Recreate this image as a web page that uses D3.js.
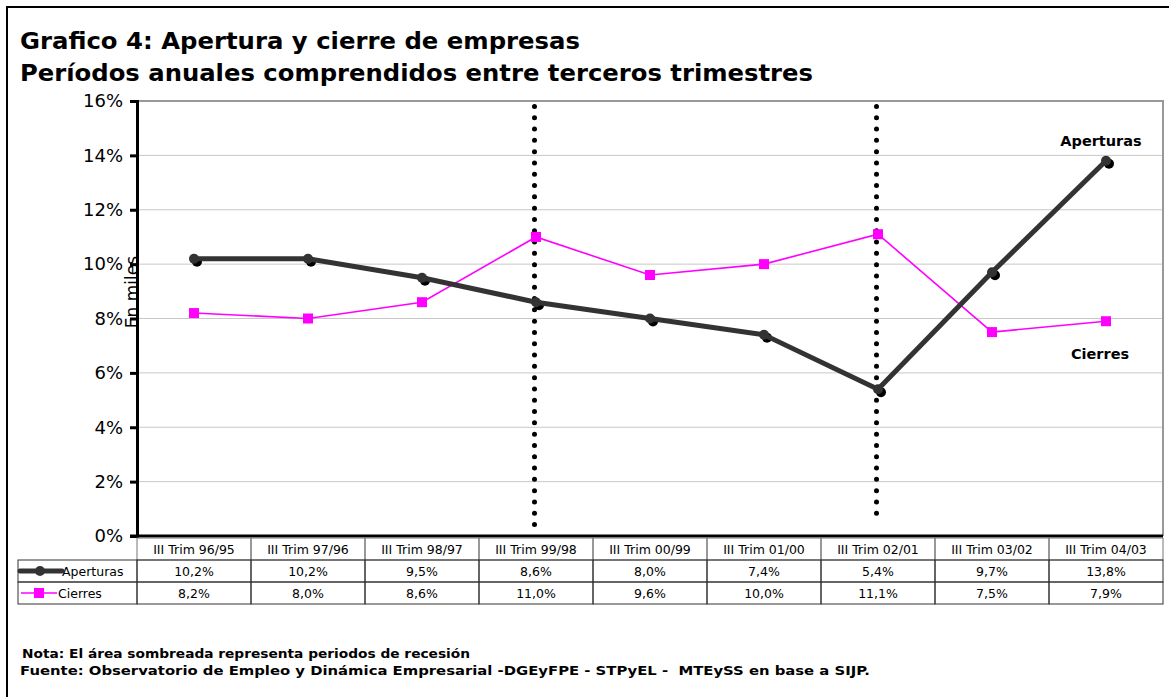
<!DOCTYPE html>
<html>
<head>
<meta charset="utf-8">
<script src="https://cdn.jsdelivr.net/npm/d3@7"></script>
<style>
  body { margin: 0; background: #fff; }
  svg { display: block; font-family: "DejaVu Sans", Verdana, sans-serif; }
</style>
</head>
<body>
<div class="chart"></div>
<script>
// data
var categories = ["III Trim 96/95", "III Trim 97/96", "III Trim 98/97", "III Trim 99/98",
  "III Trim 00/99", "III Trim 01/00", "III Trim 02/01", "III Trim 03/02", "III Trim 04/03"];
var aperturas = [10.2, 10.2, 9.5, 8.6, 8.0, 7.4, 5.4, 9.7, 13.8];
var cierres = [8.2, 8.0, 8.6, 11.0, 9.6, 10.0, 11.1, 7.5, 7.9];
var yTicks = [0, 2, 4, 6, 8, 10, 12, 14, 16];
// recession markers: [category, top %, bottom %]
var recession = [["III Trim 99/98", 15.8, 0.3], ["III Trim 02/01", 15.8, 0.7]];

var width = 1169, height = 697;
var pLeft = 137, pRight = 1163, pTop = 101, pBottom = 536;
var rowH = 22;

var svg = d3.select(".chart").append("svg")
  .attr("width", width).attr("height", height);

// outer frame (runs off the page on the right and bottom)
svg.append("rect")
  .attr("x", 7).attr("y", 7).attr("width", 1180).attr("height", 700)
  .attr("fill", "none").attr("stroke", "#000").attr("stroke-width", 2);

// titles
svg.append("text").attr("x", 20).attr("y", 49)
  .attr("font-size", 23).attr("font-weight", "bold")
  .attr("textLength", 560).attr("lengthAdjust", "spacingAndGlyphs")
  .text("Grafico 4: Apertura y cierre de empresas");
svg.append("text").attr("x", 20).attr("y", 81)
  .attr("font-size", 23).attr("font-weight", "bold")
  .attr("textLength", 793).attr("lengthAdjust", "spacingAndGlyphs")
  .text("Períodos anuales comprendidos entre terceros trimestres");

var x = d3.scaleBand().domain(categories).range([pLeft, pRight]);
var y = d3.scaleLinear().domain([0, 16]).range([pBottom, pTop]);
var cx = function(c) { return x(c) + x.bandwidth() / 2; };

// gridlines
svg.append("g").selectAll("line")
  .data(yTicks.slice(1))
  .enter().append("line")
  .attr("x1", pLeft).attr("x2", pRight)
  .attr("y1", function(d) { return y(d); }).attr("y2", function(d) { return y(d); })
  .attr("stroke", "#c8c8c8").attr("stroke-width", 1);

// plot border top/right
svg.append("path")
  .attr("d", "M" + pLeft + "," + pTop + "H" + pRight + "V" + pBottom)
  .attr("fill", "none").attr("stroke", "#999").attr("stroke-width", 2);

// y axis
var yAxis = d3.axisLeft(y).tickValues(yTicks).tickSize(7)
  .tickFormat(function(d) { return d + "%"; });
var ga = svg.append("g").attr("transform", "translate(" + pLeft + ",0)").call(yAxis);
ga.select(".domain").attr("stroke-width", 3);
ga.selectAll(".tick line").attr("stroke-width", 3);
ga.selectAll(".tick text").attr("font-size", 18).attr("fill", "#000")
  .attr("font-family", "DejaVu Sans, sans-serif").attr("x", -14);

svg.append("text")
  .attr("transform", "translate(138,292) rotate(-90)")
  .attr("text-anchor", "middle").attr("font-size", 17)
  .text("En miles");

// recession dotted lines
svg.append("g").selectAll("line")
  .data(recession)
  .enter().append("line")
  .attr("x1", function(d) { return cx(d[0]) - 1.5; })
  .attr("x2", function(d) { return cx(d[0]) - 1.5; })
  .attr("y1", function(d) { return y(d[1]); })
  .attr("y2", function(d) { return y(d[2]); })
  .attr("stroke", "#000").attr("stroke-width", 5)
  .attr("stroke-linecap", "round").attr("stroke-dasharray", "0 11.3");

// x baseline
svg.append("line").attr("x1", pLeft - 7).attr("x2", pRight)
  .attr("y1", pBottom).attr("y2", pBottom)
  .attr("stroke", "#000").attr("stroke-width", 3);

// Cierres line
var line = d3.line().x(function(d, i) { return cx(categories[i]); })
  .y(function(d) { return y(d); });
svg.append("path").datum(cierres).attr("d", line)
  .attr("fill", "none").attr("stroke", "#ff00ff").attr("stroke-width", 1.6);
svg.append("g").selectAll("rect")
  .data(cierres).enter().append("rect")
  .attr("x", function(d, i) { return cx(categories[i]) - 5; })
  .attr("y", function(d) { return y(d) - 5; })
  .attr("width", 10).attr("height", 10).attr("fill", "#ff00ff");

// Aperturas line with shadowed markers
svg.append("g").selectAll("circle")
  .data(aperturas).enter().append("circle")
  .attr("cx", function(d, i) { return cx(categories[i]) + 3; })
  .attr("cy", function(d) { return y(d) + 3; })
  .attr("r", 5).attr("fill", "#000");
svg.append("path").datum(aperturas).attr("d", line)
  .attr("fill", "none").attr("stroke", "#333").attr("stroke-width", 5);
svg.append("g").selectAll("circle")
  .data(aperturas).enter().append("circle")
  .attr("cx", function(d, i) { return cx(categories[i]); })
  .attr("cy", function(d) { return y(d); })
  .attr("r", 5).attr("fill", "#333");

// series labels
svg.append("text").attr("x", 1101).attr("y", 146).attr("text-anchor", "middle")
  .attr("font-size", 14.5).attr("font-weight", "bold").text("Aperturas");
svg.append("text").attr("x", 1100).attr("y", 359).attr("text-anchor", "middle")
  .attr("font-size", 14.5).attr("font-weight", "bold").text("Cierres");

// data table
var table = svg.append("g").attr("font-size", 12.5);
var rows = [
  { name: "Aperturas", values: aperturas },
  { name: "Cierres", values: cierres }
];
var r0 = pBottom + 2;

// header row
table.selectAll(".hcell").data(categories).enter().append("rect")
  .attr("class", "hcell")
  .attr("x", function(d) { return x(d); }).attr("y", r0)
  .attr("width", x.bandwidth()).attr("height", rowH)
  .attr("fill", "none").attr("stroke", "#777");
table.selectAll(".htext").data(categories).enter().append("text")
  .attr("class", "htext")
  .attr("x", function(d) { return cx(d); }).attr("y", r0 + 16)
  .attr("text-anchor", "middle").text(function(d) { return d; });

rows.forEach(function(row, ri) {
  var ry = r0 + rowH * (ri + 1);
  table.append("rect").attr("x", 18).attr("y", ry)
    .attr("width", pLeft - 18).attr("height", rowH)
    .attr("fill", "none").attr("stroke", "#333");
  table.selectAll(".c" + ri).data(row.values).enter().append("rect")
    .attr("x", function(d, i) { return x(categories[i]); }).attr("y", ry)
    .attr("width", x.bandwidth()).attr("height", rowH)
    .attr("fill", "none").attr("stroke", "#333");
  table.selectAll(".t" + ri).data(row.values).enter().append("text")
    .attr("x", function(d, i) { return cx(categories[i]); }).attr("y", ry + 16)
    .attr("text-anchor", "middle")
    .text(function(d) { return d.toFixed(1).replace(".", ",") + "%"; });
  table.append("text").attr("x", ri === 0 ? 62 : 58).attr("y", ry + 16).text(row.name);
});

// legend keys
var ly1 = r0 + rowH * 1.5, ly2 = r0 + rowH * 2.5;
table.append("line").attr("x1", 20).attr("x2", 62).attr("y1", ly1).attr("y2", ly1)
  .attr("stroke", "#333").attr("stroke-width", 5).attr("stroke-linecap", "round");
table.append("circle").attr("cx", 40).attr("cy", ly1).attr("r", 5).attr("fill", "#333");
table.append("line").attr("x1", 21).attr("x2", 57).attr("y1", ly2).attr("y2", ly2)
  .attr("stroke", "#ff00ff").attr("stroke-width", 1.6);
table.append("rect").attr("x", 34).attr("y", ly2 - 5).attr("width", 10).attr("height", 10)
  .attr("fill", "#ff00ff");

// notes
svg.append("text").attr("x", 22).attr("y", 658).attr("font-size", 13).attr("font-weight", "bold")
  .attr("textLength", 448).attr("lengthAdjust", "spacingAndGlyphs")
  .text("Nota: El área sombreada representa periodos de recesión");
svg.append("text").attr("x", 20).attr("y", 675).attr("font-size", 13).attr("font-weight", "bold")
  .attr("xml:space", "preserve")
  .attr("textLength", 850).attr("lengthAdjust", "spacingAndGlyphs")
  .text("Fuente: Observatorio de Empleo y Dinámica Empresarial -DGEyFPE - STPyEL -  MTEySS en base a SIJP.");
</script>
</body>
</html>
